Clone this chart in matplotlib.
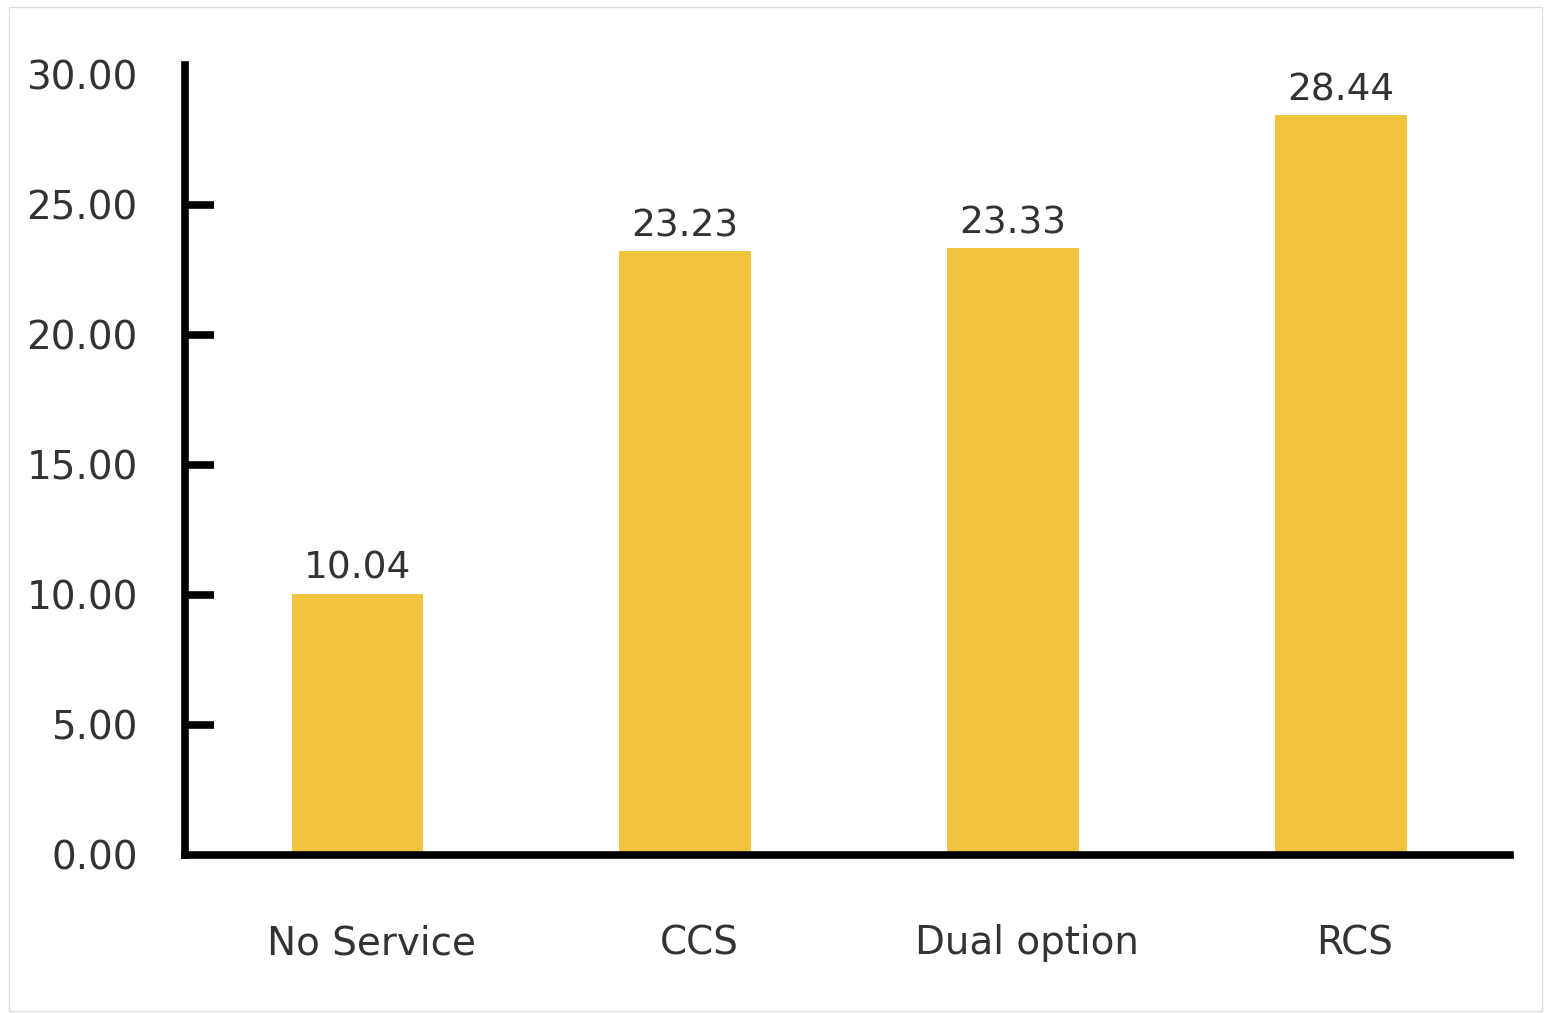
import matplotlib
matplotlib.use("Agg")
import matplotlib.pyplot as plt
import matplotlib.transforms as mtransforms
from matplotlib.patches import Rectangle

categories = ["No Service", "CCS", "Dual option", "RCS"]
values = [10.04, 23.23, 23.33, 28.44]
y_ticks = [0, 5, 10, 15, 20, 25, 30]

bar_color = "#F0C43F"
text_color = "#333333"

plt.rcParams['font.family'] = ['DejaVu Sans']

fig = plt.figure(figsize=(15.45, 10.13), dpi=100)
ax = fig.add_axes([0.1197, 0.156, 0.9773 - 0.1197, 0.9358 - 0.156])

x = list(range(len(categories)))
bars = ax.bar(x, values, width=0.4, color=bar_color, zorder=2)

for b, v in zip(bars, values):
    ax.annotate(f"{v:.2f}", (b.get_x() + b.get_width() / 2, v),
                xytext=(0, 5), textcoords="offset points",
                ha="center", va="bottom", fontsize=27, color=text_color)

ax.set_xlim(-0.525, 3.515)
ax.set_ylim(0, 30.38)
ax.set_xticks(x)
ax.set_xticklabels(categories, fontsize=28, color=text_color)
ax.set_yticks(y_ticks)
ax.set_yticklabels([f"{t:.2f}" for t in y_ticks], fontsize=28, color=text_color)

ax.tick_params(axis="y", direction="in", length=21, width=5.5, pad=34, color="black")
ax.tick_params(axis="x", length=0, pad=50)

# no tick marks at the two ends of the value axis
yticks = ax.yaxis.get_major_ticks()
for t in (yticks[0], yticks[-1]):
    t.tick1line.set_visible(False)

# category labels sit slightly right of the bar centres
shift = mtransforms.ScaledTranslation(14 / 100, 0, fig.dpi_scale_trans)
for lbl in ax.get_xticklabels():
    lbl.set_transform(lbl.get_transform() + shift)

for side in ["top", "right"]:
    ax.spines[side].set_visible(False)
for side in ["left", "bottom"]:
    ax.spines[side].set_linewidth(5.5)
    ax.spines[side].set_color("black")
    ax.spines[side].set_capstyle("projecting")

# thin light frame round the whole figure
fig.patches.append(Rectangle((9 / 1545, 0.002), 1 - 9 / 1545 - 0.002, 1 - 7 / 1013 - 0.002,
                             transform=fig.transFigure, fill=False,
                             edgecolor="#dddddd", linewidth=1))

fig.savefig("out.png", dpi=100)
